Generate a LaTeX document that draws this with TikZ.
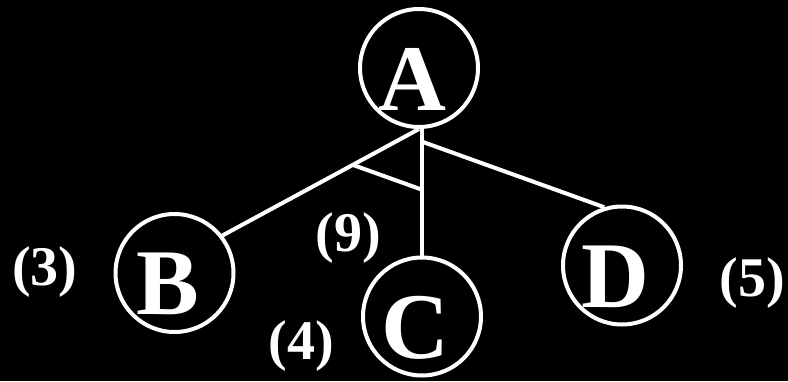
\documentclass[tikz,border=0pt]{standalone}
\usepackage{fontspec}
\setmainfont{Liberation Serif}
\usetikzlibrary{calc}
\newcommand{\ltr}[1]{\raisebox{-11pt}[\height][\depth]{\kern-14pt#1}}
\begin{document}
\begin{tikzpicture}[x=1pt, y=-1pt,
    vnode/.style={circle, draw=white, line width=4pt, minimum size=118pt,
                inner sep=0pt, text=white,
                font=\fontsize{94}{94}\selectfont\bfseries},
    wlbl/.style={text=white, inner sep=0pt,
                font=\fontsize{56}{56}\selectfont\bfseries},
    link/.style={draw=white, line width=4pt}
  ]
    \fill[black] (0,0) rectangle (788,381);

    \node[vnode] (A) at (419,68)    {\ltr{A}};
    \node[vnode] (B) at (174.5,273) {\ltr{B}};
    \node[vnode] (C) at (422,316.5) {\ltr{C}};
    \node[vnode] (D) at (622,265.5) {\ltr{D}};

    \coordinate (top)  at (A.south -| C.north);
    \coordinate (fork) at ($(top)!0.1!(C.north)$);
    \draw[link] (A.south) -- (B.38);
    \draw[link] (top) -- (C.north);
    \draw[link] (fork) -- (D.107);
    % and-arc
    \draw[link] ($(A.south)!0.337!(B.38)$) -- ($(top)!0.48!(C.north)$);

    \node[wlbl] (w3) at (45,272)  {(3)};
    \node[wlbl] (w9) at (348,238) {(9)};
    \node[wlbl] (w4) at (301,346) {(4)};
    \node[wlbl] (w5) at (752,283) {(5)};
  \end{tikzpicture}
\end{document}
